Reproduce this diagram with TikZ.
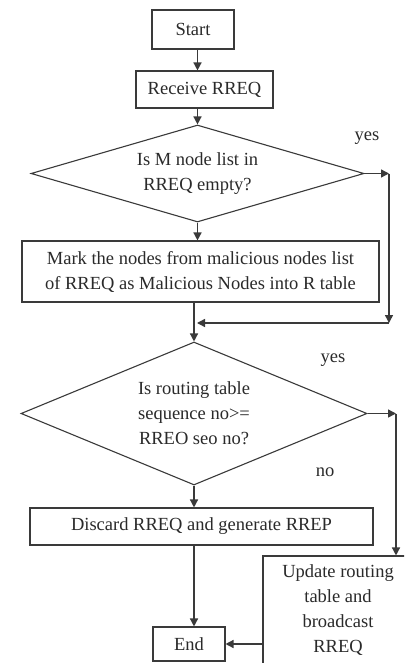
\documentclass[tikz,border=0pt]{standalone}
\usepackage{fontspec}
\setmainfont{Liberation Serif}
\usetikzlibrary{shapes.geometric,arrows.meta}
\definecolor{ln}{HTML}{3A3A3A}
\definecolor{tx}{HTML}{2A2A2A}
\begin{document}
\begin{tikzpicture}[x=1pt,y=-1pt,
  every node/.style={text=tx,font=\fontsize{18.5}{25}\selectfont},
  boxn/.style={draw=ln,line width=1.1pt,rectangle,inner sep=0pt,align=center},
  dia/.style={draw=ln,line width=1.1pt,diamond,inner sep=0pt,align=center},
  arr/.style={draw=ln,line width=1.4pt,-{Triangle[length=8pt,width=8pt]}},
  lbl/.style={inner sep=0pt}]
\useasboundingbox[fill=white] (0,0) rectangle (404,663);
\node[boxn,minimum width=82pt,minimum height=39pt] (start) at (193,29.5) {Start};
\node[boxn,minimum width=137pt,minimum height=37pt] (receive) at (204.5,89.5) {Receive RREQ};
\node[dia,aspect=3,minimum width=333pt,minimum height=97pt] (d1) at (197.5,173.5) {Is M node list in\\RREQ empty?};
\node[boxn,minimum width=357pt,minimum height=61pt] (mark) at (200.5,271.5) {Mark the nodes from malicious nodes list\\of RREQ as Malicious Nodes into R table};
\node[dia,aspect=2.4,minimum width=346pt,minimum height=143pt] (d2) at (194,413.5) {Is routing table\\sequence no>=\\RREO seo no?};
\node[boxn,minimum width=343pt,minimum height=37pt] (discard) at (201.5,526.5) {Discard RREQ and generate RREP};
\node[boxn,minimum width=72pt,minimum height=34pt] (endn) at (189,644) {End};
\begin{scope}
\clip (0,0) rectangle (404,663);
\node[boxn,minimum width=150pt,minimum height=109pt] (update) at (338,610.5) {Update routing\\table and\\broadcast\\RREQ};
\end{scope}
\node[lbl] (yes1) at (367,138) {yes};
\node[lbl] (yes2) at (333,360) {yes};
\node[lbl] (no1) at (325,472) {no};
\coordinate (c1) at (389,173.5);
\coordinate (c2) at (389,323);
\coordinate (c3) at (396,413.5);
\draw[arr] (start.south -| d1.north) -- (receive.north -| d1.north);
\draw[arr] (receive.south -| d1.north) -- (d1.north);
\draw[arr] (d1.south) -- (d1.south |- mark.north);
\draw[arr] (d1.east) -- (c1);
\draw[arr] (c1) -- (c2);
\draw[arr] (c2) -- ([xshift=3pt]c2 -| d2.north);
\draw[arr] (mark.south -| d2.north) -- (d2.north);
\draw[arr] (d2.south) -- (d2.south |- discard.north);
\draw[arr] (d2.east) -- (c3);
\draw[arr] (c3) -- (c3 |- update.north);
\draw[arr] (discard.south -| d2.south) -- (d2.south |- endn.north);
\draw[arr] (update.west |- endn.east) -- (endn.east);
\end{tikzpicture}
\end{document}
